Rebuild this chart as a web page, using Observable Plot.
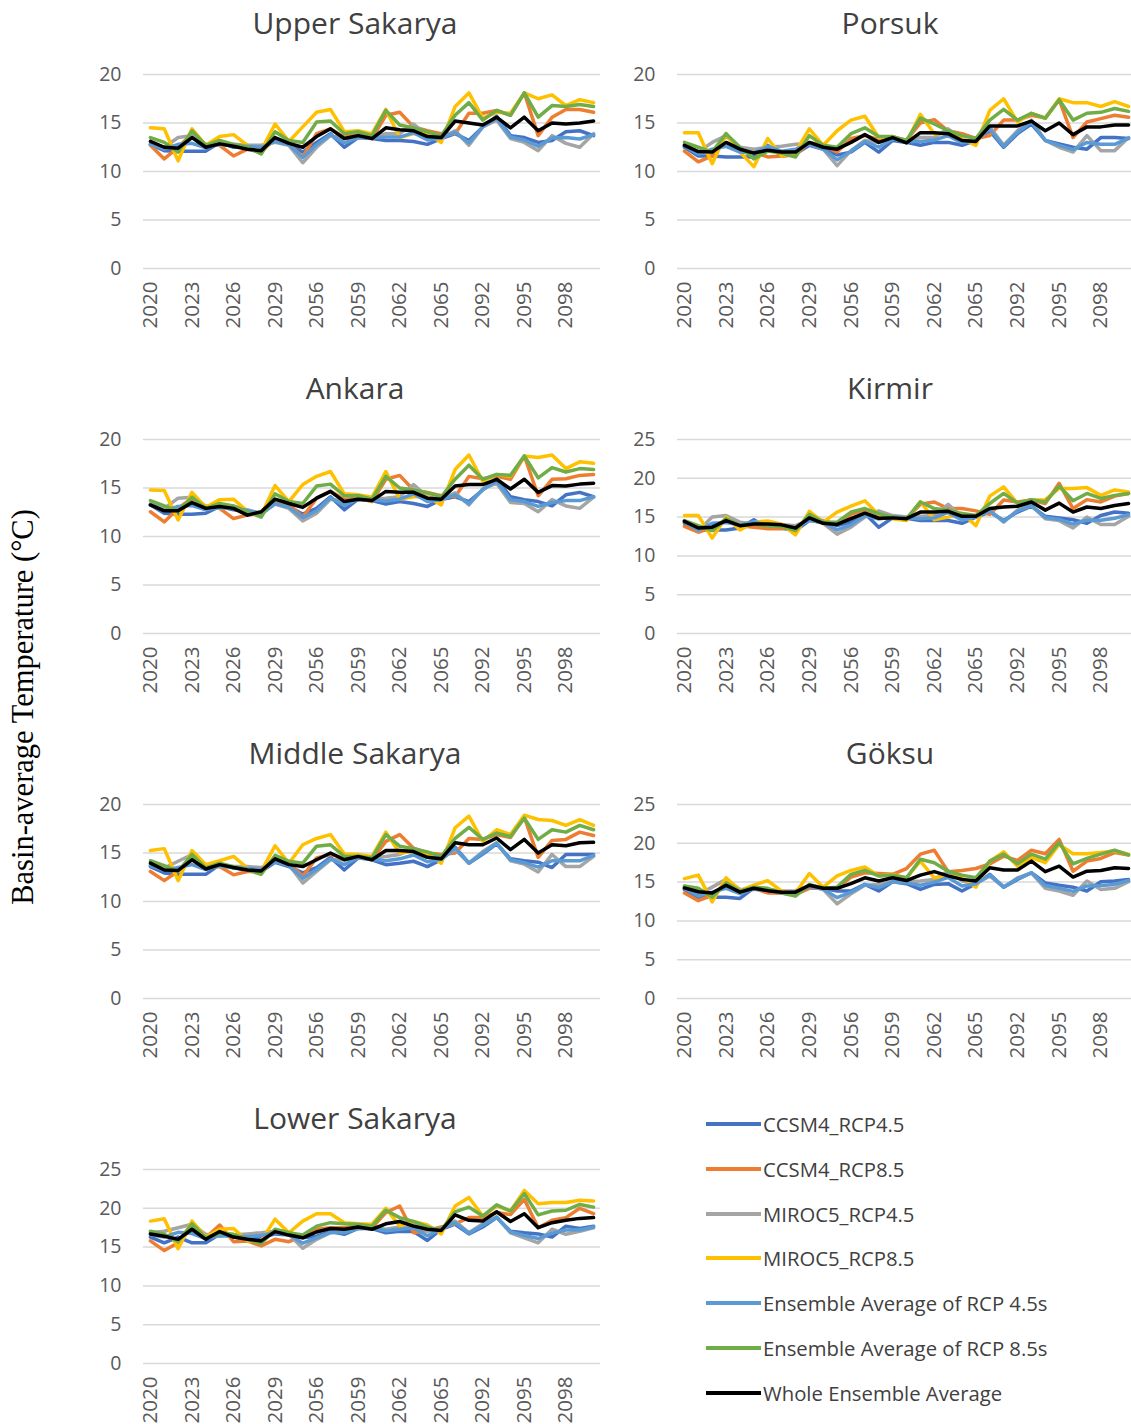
<!DOCTYPE html>
<html><head><meta charset="utf-8">
<script src="https://cdn.jsdelivr.net/npm/d3@7"></script>
<script src="https://cdn.jsdelivr.net/npm/@observablehq/plot@0.6"></script>
<style>
body{margin:0;background:#fff;}
#page{position:relative;width:1131px;height:1424px;overflow:hidden;background:#fff;font-family:"Open Sans",sans-serif;}
.ptitle{position:absolute;font-size:30px;color:#404040;transform:translate(-50%,-50%);white-space:nowrap;}
.panel{position:absolute;}
.ylab{position:absolute;left:23px;top:707px;transform:translate(-50%,-50%) rotate(-90deg);font-family:"Liberation Serif",serif;font-size:30.5px;color:#000;white-space:nowrap;}
.leg{position:absolute;left:706px;display:flex;align-items:center;transform:translateY(-50%);}
.leg .sw{width:55px;height:4px;margin-right:2px;}
.leg span{font-size:20.3px;color:#404040;white-space:nowrap;}
</style></head>
<body><div id="page"></div>
<script>
const years = [2020,2021,2022,2023,2024,2025,2026,2027,2028,2029,2030,
  2055,2056,2057,2058,2059,2060,2061,2062,2063,2064,2065,
  2090,2091,2092,2093,2094,2095,2096,2097,2098,2099,2100];
const tickYears = [2020,2023,2026,2029,2056,2059,2062,2065,2092,2095,2098];
const seriesNames = ["CCSM4_RCP4.5","CCSM4_RCP8.5","MIROC5_RCP4.5","MIROC5_RCP8.5",
  "Ensemble Average of RCP 4.5s","Ensemble Average of RCP 8.5s","Whole Ensemble Average"];
const seriesColors = ["#4472C4","#ED7D31","#A5A5A5","#FFC000","#5B9BD5","#70AD47","#000000"];

// values per panel, in seriesNames order
const upperSakarya = [
 [12.8,12.15,12.1,12.1,12.1,13.0,12.5,12.5,12.3,13.2,12.8,12.0,13.0,13.9,12.5,13.5,13.4,13.2,13.2,13.1,12.8,13.4,13.9,13.2,14.6,15.7,13.7,13.5,13.0,13.2,14.1,14.2,13.7],
 [12.7,11.3,12.5,13.9,12.7,12.7,11.6,12.3,12.0,13.4,12.8,11.5,13.9,14.4,13.5,13.9,13.4,15.8,16.1,14.6,14.2,13.9,13.9,16.0,16.0,16.3,15.8,18.1,13.7,15.6,16.4,16.4,16.1],
 [12.8,12.5,13.5,13.7,12.8,12.7,12.8,12.7,12.7,13.0,12.7,10.9,12.5,13.7,13.4,13.5,13.5,13.9,13.9,14.9,13.7,13.5,14.2,12.7,14.6,15.3,13.4,13.0,12.15,13.7,12.9,12.5,13.9],
 [14.5,14.4,11.1,14.4,12.7,13.6,13.8,12.7,12.15,14.9,13.1,14.6,16.1,16.4,14.1,14.2,13.9,16.4,13.5,13.9,13.9,13.0,16.7,18.1,15.5,16.1,16.0,18.1,17.5,17.9,16.8,17.4,17.1],
 [12.8,12.3,12.8,12.9,12.45,12.85,12.65,12.6,12.5,13.1,12.75,11.45,12.75,13.8,12.95,13.5,13.45,13.55,13.55,14.0,13.25,13.45,14.05,12.95,14.6,15.5,13.55,13.25,12.6,13.45,13.5,13.35,13.8],
 [13.5,13.0,12.0,14.2,12.7,13.2,12.8,12.5,11.8,14.1,13.2,13.0,15.1,15.2,13.9,14.1,13.7,16.3,14.8,14.5,14.1,13.7,15.8,17.1,15.3,16.3,15.8,18.1,15.6,16.8,16.7,16.9,16.7],
 [13.1,12.5,12.4,13.5,12.5,12.85,12.6,12.3,12.15,13.5,12.9,12.5,13.6,14.4,13.4,13.7,13.4,14.5,14.3,14.2,13.6,13.5,15.2,15.0,14.8,15.6,14.5,15.6,14.2,15.0,14.9,15.0,15.2]
];
const porsuk = [
 [12.5,11.6,11.6,11.5,11.5,11.5,12.7,11.6,11.8,12.7,12.3,11.7,12.0,13.0,12.0,13.2,13.0,12.7,13.0,13.0,12.7,13.2,14.2,12.5,13.9,14.9,13.2,12.85,12.5,12.3,13.5,13.5,13.4],
 [12.1,11.0,11.6,13.7,12.3,12.0,11.5,11.6,11.7,13.0,12.7,12.0,13.4,13.7,13.3,13.6,13.2,15.0,15.35,14.2,13.9,13.4,13.7,15.3,15.3,15.8,15.5,17.4,13.5,15.1,15.45,15.8,15.6],
 [12.7,12.0,13.0,13.7,12.5,12.3,12.5,12.6,12.8,12.85,12.3,10.6,12.15,13.2,13.0,13.5,13.2,13.5,13.5,14.4,13.2,13.2,14.6,12.7,14.2,15.3,13.2,12.5,12.0,13.7,12.15,12.15,13.5],
 [14.0,14.0,10.8,13.9,12.0,10.5,13.4,11.6,12.0,14.4,12.7,14.2,15.3,15.7,13.5,13.5,13.0,15.9,13.9,13.9,13.4,12.7,16.3,17.5,15.1,16.0,15.5,17.5,17.1,17.1,16.7,17.2,16.7],
 [12.6,11.8,12.3,12.6,12.0,11.9,12.6,12.1,12.3,12.8,12.3,11.2,12.1,13.1,12.5,13.35,13.1,13.1,13.25,13.7,12.95,13.2,14.4,12.6,14.05,15.1,13.2,12.7,12.25,13.0,12.8,12.8,13.45],
 [13.0,12.5,12.0,13.9,12.5,11.3,12.1,11.9,11.5,13.7,12.7,12.5,13.9,14.5,13.6,13.6,13.2,15.5,14.9,14.2,13.7,13.4,15.3,16.4,15.3,16.0,15.5,17.4,15.3,16.0,16.1,16.5,16.2],
 [12.7,12.05,12.0,13.0,12.3,11.9,12.2,12.0,12.0,13.0,12.5,12.3,13.0,13.8,13.0,13.5,12.95,14.0,14.0,13.9,13.2,13.1,14.7,14.7,14.7,15.2,14.2,15.0,13.8,14.6,14.6,14.8,14.8]
];
const ankara = [
 [13.25,12.4,12.3,12.3,12.4,13.1,12.75,12.6,12.3,13.4,13.1,12.3,12.9,14.1,12.75,13.85,13.7,13.35,13.6,13.4,13.1,13.8,14.1,13.6,14.8,15.9,14.1,13.8,13.6,13.15,14.3,14.55,14.1],
 [12.55,11.5,12.9,13.95,13.15,12.9,11.85,12.2,12.4,13.6,13.3,12.0,13.95,14.65,13.85,13.95,13.6,15.9,16.3,14.8,14.55,14.2,14.1,16.2,15.95,16.2,15.9,18.3,14.2,15.9,15.95,16.3,16.4],
 [13.35,12.9,13.95,14.05,13.1,12.9,13.1,12.75,12.4,13.35,12.9,11.6,12.4,13.85,13.6,13.85,13.85,13.95,14.1,15.35,14.1,13.8,14.5,13.25,14.9,15.5,13.5,13.4,12.55,13.8,13.15,12.9,14.05],
 [14.8,14.75,11.7,14.55,13.0,13.8,13.85,12.6,12.2,15.25,13.6,15.35,16.2,16.7,14.4,14.3,14.05,16.7,13.85,14.1,14.1,13.25,16.9,18.4,15.7,16.4,16.2,18.3,18.15,18.4,17.0,17.7,17.55],
 [13.3,12.65,13.1,13.2,12.75,13.0,12.9,12.7,12.35,13.4,13.0,11.95,12.65,14.0,13.2,13.85,13.8,13.65,13.85,14.4,13.6,13.8,14.3,13.4,14.85,15.7,13.8,13.6,13.1,13.5,13.7,13.7,14.1],
 [13.7,13.15,12.6,14.05,12.9,13.4,13.15,12.55,12.0,14.4,13.6,13.4,15.2,15.4,14.2,14.2,13.85,16.2,15.0,14.8,14.5,14.1,15.9,17.35,15.9,16.4,16.3,18.3,16.05,17.1,16.65,17.0,16.9],
 [13.25,12.65,12.65,13.5,12.9,13.1,12.9,12.2,12.55,13.85,13.4,13.0,13.95,14.65,13.6,13.85,13.7,14.65,14.55,14.55,13.95,13.85,15.2,15.35,15.35,15.9,14.9,15.9,14.55,15.25,15.2,15.4,15.5]
];
const kirmir = [
 [14.2,13.35,13.35,13.35,13.6,14.65,13.6,13.6,13.25,14.55,14.35,13.9,14.35,15.45,13.7,14.9,14.85,14.55,14.55,14.55,14.2,15.0,15.65,14.55,15.65,16.4,15.1,14.9,14.65,14.2,15.2,15.65,15.5],
 [13.8,13.05,13.7,14.65,13.9,13.7,13.5,13.5,13.6,14.8,14.55,14.1,15.35,15.95,15.2,15.1,14.8,16.65,16.95,16.1,16.1,15.8,15.35,17.2,16.95,17.2,16.75,19.35,16.1,17.25,16.95,17.7,18.05],
 [14.55,13.25,15.0,15.2,14.35,14.1,14.2,14.05,13.9,14.65,14.2,12.8,13.7,15.0,15.8,15.2,15.0,15.1,15.2,16.65,15.0,15.1,15.9,14.35,15.9,16.5,14.8,14.55,13.6,15.0,14.05,14.05,15.1],
 [15.2,15.2,12.3,15.0,13.35,14.35,14.5,14.1,12.7,15.75,14.35,15.65,16.4,17.1,15.3,14.8,14.55,17.0,14.65,15.0,15.5,13.9,17.7,18.9,16.75,17.2,17.25,18.7,18.7,18.8,17.8,18.5,18.25],
 [14.4,13.3,14.2,14.3,14.0,14.4,13.9,13.8,13.6,14.6,14.3,13.35,14.0,15.2,14.75,15.05,14.9,14.8,14.9,15.6,14.6,15.05,15.8,14.45,15.8,16.45,14.95,14.7,14.1,14.6,14.6,14.85,15.3],
 [14.55,13.9,13.25,14.8,13.9,14.1,13.9,13.8,13.25,15.35,14.35,14.35,15.65,16.1,15.45,15.0,14.8,16.95,16.1,15.9,15.45,15.2,16.75,18.05,16.8,17.25,16.95,19.0,17.1,18.05,17.4,17.8,18.05],
 [14.45,13.6,13.7,14.55,13.9,14.1,14.1,14.0,13.6,14.9,14.2,14.05,14.8,15.5,14.85,14.9,14.8,15.65,15.65,15.75,15.1,15.1,16.1,16.3,16.4,16.95,15.9,16.8,15.65,16.3,16.1,16.5,16.75]
];
const middleSakarya = [
 [13.6,12.95,12.8,12.8,12.8,13.8,13.45,13.25,13.1,14.05,13.6,12.95,13.5,14.55,13.25,14.5,14.3,13.8,13.95,14.15,13.6,14.3,15.6,13.95,14.9,15.95,14.4,14.2,14.05,13.5,14.85,14.85,14.85],
 [13.1,12.15,13.15,14.5,13.5,13.6,12.75,13.1,13.1,14.3,13.95,12.6,14.5,14.85,14.5,14.65,14.3,16.2,16.9,15.5,15.0,14.85,15.0,16.5,16.4,16.9,16.6,18.7,14.55,16.3,16.4,17.15,16.8],
 [13.8,13.45,14.15,14.85,13.8,13.6,13.6,13.6,13.5,14.15,13.8,11.9,13.1,14.3,14.3,14.5,14.4,14.65,14.85,15.5,14.65,14.4,15.35,13.95,15.15,16.05,14.2,13.85,13.05,14.85,13.6,13.6,14.65],
 [15.25,15.45,12.15,15.25,13.8,14.2,14.65,13.45,13.1,15.75,13.95,15.85,16.5,16.9,14.9,14.85,14.65,17.15,15.0,15.15,14.9,13.95,17.6,18.8,16.2,17.4,16.9,18.9,18.45,18.35,17.85,18.45,17.85],
 [13.7,13.2,13.5,13.8,13.3,13.7,13.5,13.4,13.3,14.1,13.7,12.4,13.3,14.4,13.8,14.5,14.35,14.2,14.4,14.8,14.1,14.35,15.5,13.95,15.0,16.0,14.3,14.0,13.55,14.2,14.2,14.2,14.75],
 [14.2,13.7,13.1,14.85,13.45,13.95,13.6,13.25,12.8,14.75,14.15,13.95,15.7,15.85,14.65,14.65,14.5,16.9,15.7,15.45,15.1,14.65,16.5,17.65,16.4,17.05,16.7,18.6,16.4,17.4,17.15,17.85,17.4],
 [13.95,13.25,13.2,14.3,13.35,13.8,13.5,13.25,13.15,14.4,13.8,13.6,14.3,15.0,14.3,14.65,14.3,15.25,15.25,15.15,14.55,14.4,16.05,15.85,15.85,16.55,15.35,16.4,15.0,15.85,15.75,16.05,16.1]
];
const goksu = [
 [14.05,13.05,13.05,13.05,12.9,14.25,13.75,13.6,13.4,14.35,14.2,13.85,13.85,14.7,13.85,15.05,14.8,14.05,14.7,14.8,13.85,14.8,16.0,14.35,15.35,16.2,14.9,14.6,14.35,13.85,15.05,15.15,15.35],
 [13.6,12.6,13.3,14.6,13.9,14.2,13.6,13.6,13.4,14.2,14.2,14.2,15.65,16.2,16.1,16.0,16.75,18.6,19.1,16.35,16.5,16.75,17.35,18.35,17.8,19.1,18.65,20.5,16.4,17.7,18.05,18.8,18.5],
 [14.35,13.4,14.35,15.35,14.05,14.05,14.05,13.85,13.9,14.5,14.05,12.2,13.5,14.6,14.7,15.05,15.05,15.15,15.35,16.4,15.15,14.8,15.8,14.35,15.55,16.2,14.2,13.85,13.3,15.15,14.05,14.2,15.05],
 [15.45,15.9,12.45,15.55,13.9,14.6,15.2,13.85,13.6,16.1,14.35,15.8,16.5,16.95,15.8,16.0,15.55,17.7,15.55,15.8,15.55,14.35,17.7,18.9,17.05,18.15,17.5,19.85,18.65,18.65,18.8,19.0,18.6],
 [14.2,13.2,13.7,14.2,13.5,14.15,13.9,13.7,13.65,14.4,14.1,13.0,13.7,14.65,14.3,15.05,14.9,14.6,15.0,15.6,14.5,14.8,15.9,14.35,15.45,16.2,14.55,14.2,13.8,14.5,14.55,14.7,15.2],
 [14.5,14.2,13.05,14.9,13.85,14.35,14.2,13.6,13.2,14.7,14.2,14.35,16.0,16.5,15.8,15.9,15.55,17.95,17.5,16.4,15.9,15.55,17.7,18.6,17.35,18.6,17.95,20.1,17.35,18.05,18.6,19.1,18.5],
 [14.25,13.75,13.6,14.6,13.7,14.2,13.9,13.7,13.7,14.6,14.2,14.2,14.8,15.55,15.15,15.55,15.2,15.9,16.35,15.8,15.35,15.15,16.85,16.55,16.55,17.7,16.35,17.05,15.65,16.4,16.5,16.85,16.75]
];
const lowerSakarya = [
 [16.3,15.55,16.3,15.55,15.55,16.65,16.3,16.0,16.2,16.7,16.55,16.2,16.4,17.0,16.65,17.4,17.4,16.85,17.05,17.0,15.85,17.3,17.95,16.7,17.6,18.8,17.05,16.85,16.7,16.3,17.7,17.4,17.7],
 [15.8,14.55,15.55,17.5,16.2,17.85,15.7,15.8,15.15,16.0,15.7,16.4,17.3,17.5,17.5,17.7,17.5,19.45,20.3,16.85,17.15,17.6,18.0,18.8,18.8,19.45,19.2,21.15,17.5,18.45,18.8,20.0,19.3],
 [16.85,17.05,17.5,17.95,16.65,16.4,16.55,16.7,16.85,17.05,16.65,14.85,16.0,16.85,17.05,17.4,17.5,17.3,17.6,18.0,17.05,17.4,18.35,16.85,18.0,18.9,16.85,16.2,15.55,17.3,16.65,17.05,17.5],
 [18.35,18.65,14.8,18.35,16.3,17.3,17.4,15.8,15.8,18.6,16.85,18.35,19.3,19.3,18.15,18.0,17.95,20.0,17.7,18.3,17.85,16.7,20.3,21.4,19.0,20.3,19.65,22.3,20.6,20.75,20.75,21.05,20.95],
 [16.6,16.3,16.9,16.75,16.1,16.5,16.4,16.35,16.5,16.9,16.6,15.5,16.2,16.9,16.85,17.4,17.45,17.1,17.3,17.5,16.45,17.35,18.15,16.8,17.8,18.85,16.95,16.5,16.1,16.8,17.2,17.2,17.6],
 [17.05,16.65,15.7,18.0,16.2,16.85,16.65,16.0,15.45,17.3,16.85,16.55,17.7,18.15,18.0,17.95,17.7,19.75,18.8,18.3,17.6,17.15,19.55,20.15,19.0,20.45,19.65,21.9,19.15,19.65,19.75,20.5,20.15],
 [16.7,16.4,16.0,17.3,16.0,17.0,16.3,16.0,15.8,17.0,16.55,16.2,16.95,17.4,17.3,17.6,17.3,18.0,18.3,17.7,17.3,17.15,19.15,18.45,18.35,19.55,18.3,19.3,17.5,18.15,18.45,18.7,18.8]
];
const panelTitles = ["Upper Sakarya","Porsuk","Ankara","Kirmir","Middle Sakarya","Göksu","Lower Sakarya"];
const panelValues = [upperSakarya, porsuk, ankara, kirmir, middleSakarya, goksu, lowerSakarya];
const panelYMax = [20, 20, 20, 25, 20, 25, 25];

const page = document.getElementById("page");

function drawPanel(k) {
  const col = k % 2, row = Math.floor(k / 2);
  const values = panelValues[k];
  const rows = [];
  values.forEach((arr, s) => arr.forEach((v, i) => rows.push({year: years[i], value: v, series: seriesNames[s]})));
  const yMax = panelYMax[k];
  const left = col === 0 ? 0 : 540;
  const top = 50 + row * 365;
  const chart = Plot.plot({
    width: col === 0 ? 610 : 600,
    height: 290,
    marginTop: 24, marginBottom: 72,
    marginLeft: col === 0 ? 143 : 137,
    marginRight: col === 0 ? 10 : 5,
    x: {type: "point", domain: years, padding: 0.5, round: false},
    y: {domain: [0, yMax]},
    color: {domain: seriesNames, range: seriesColors},
    style: {fontFamily: "'Open Sans', sans-serif", fontSize: "19.5px", color: "#595959", background: "transparent", overflow: "visible"},
    marks: [
      Plot.gridY(d3.range(0, yMax + 1, 5), {stroke: "#d9d9d9", strokeOpacity: 1, strokeWidth: 1.5}),
      Plot.axisY(d3.range(0, yMax + 1, 5), {tickSize: 0, tickPadding: 22, label: null, fill: "#595959"}),
      Plot.axisX(tickYears, {tickSize: 0, tickPadding: 13, tickRotate: -90, label: null, tickFormat: d => String(d), fill: "#595959", fontSize: 20.5}),
      Plot.line(rows, {x: "year", y: "value", z: "series", stroke: "series", strokeWidth: 3.5, strokeLinejoin: "round", strokeLinecap: "round"})
    ]
  });
  chart.classList.add("panel");
  chart.style.left = left + "px";
  chart.style.top = top + "px";
  page.appendChild(chart);
  const t = document.createElement("div");
  t.className = "ptitle";
  t.textContent = panelTitles[k];
  t.style.left = (col === 0 ? 355 : 890) + "px";
  t.style.top = (22 + row * 365) + "px";
  page.appendChild(t);
}
for (let k = 0; k < 7; k++) drawPanel(k);

const yl = document.createElement("div");
yl.className = "ylab";
yl.textContent = "Basin-average Temperature (°C)";
page.appendChild(yl);

seriesNames.forEach((name, i) => {
  const d = document.createElement("div");
  d.className = "leg";
  d.style.top = (1124 + i * 44.8) + "px";
  d.innerHTML = `<div class="sw" style="background:${seriesColors[i]}"></div><span>${name}</span>`;
  page.appendChild(d);
});
</script>
</body></html>
